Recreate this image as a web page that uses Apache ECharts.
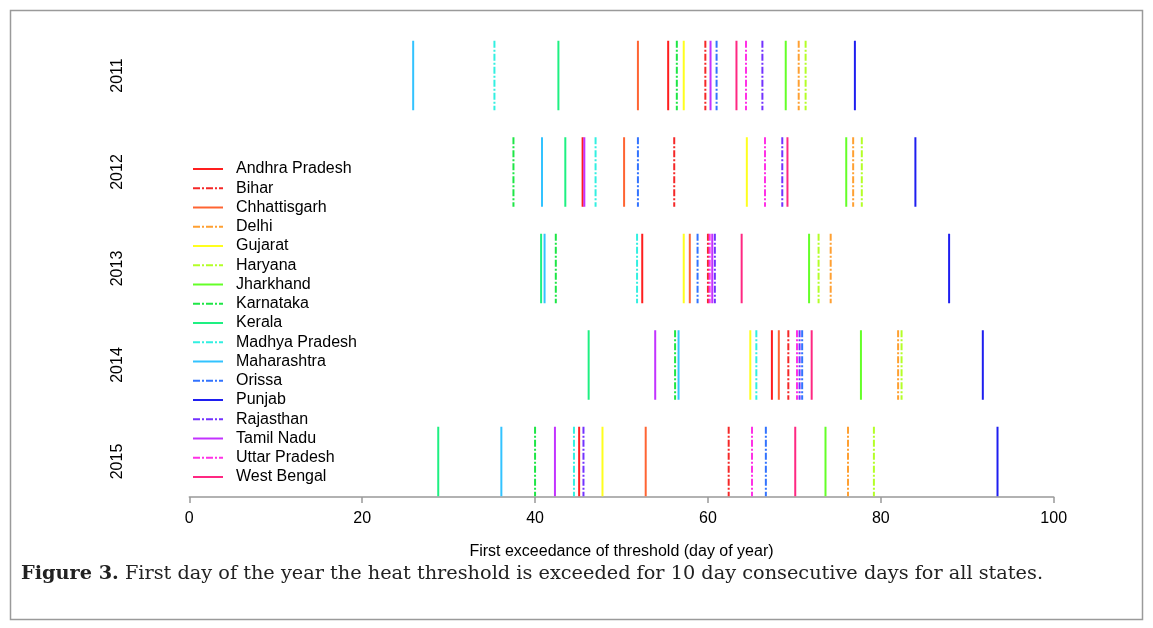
<!DOCTYPE html>
<html>
<head>
<meta charset="utf-8">
<script src="https://cdn.jsdelivr.net/npm/echarts@6/dist/echarts.min.js"></script>
<style>
html,body{margin:0;padding:0;background:#fff;}
#chart{width:1153px;height:628px;}
</style>
</head>
<body>
<div id="chart"></div>
<script>
const states = ['Andhra Pradesh','Bihar','Chhattisgarh','Delhi','Gujarat','Haryana','Jharkhand','Karnataka','Kerala','Madhya Pradesh','Maharashtra','Orissa','Punjab','Rajasthan','Tamil Nadu','Uttar Pradesh','West Bengal'];
const years = ['2011','2012','2013','2014','2015'];
const xTicks = [0, 20, 40, 60, 80, 100];
// first exceedance day per state (in states order) for each year
const d2011 = [55.4, 59.7, 51.9, 70.5, 57.2, 71.3, 69.0, 56.4, 42.7, 35.3, 25.9, 61.0, 77.0, 66.3, 60.3, 64.4, 63.3];
const d2012 = [45.5, 56.1, 50.3, 76.8, 64.5, 77.8, 76.0, 37.5, 43.5, 47.0, 40.8, 51.9, 84.0, 68.6, 45.7, 66.6, 69.2];
const d2013 = [52.4, 60.0, 57.9, 74.2, 57.2, 72.8, 71.7, 42.4, 40.7, 51.8, 41.1, 58.8, 87.9, 60.8, 60.5, 60.2, 63.9];
const d2014 = [67.4, 69.3, 68.2, 82.0, 64.9, 82.4, 77.7, 56.2, 46.2, 65.6, 56.6, 70.9, 91.8, 70.6, 53.9, 70.3, 72.0];
const d2015 = [45.1, 62.4, 52.8, 76.2, 47.8, 79.2, 73.6, 40.0, 28.8, 44.5, 36.1, 66.7, 93.5, 45.6, 42.3, 65.1, 70.1];
const byYear = [d2011, d2012, d2013, d2014, d2015];

// styles
const colors = ['#FF1E1E','#F52828','#FF6432','#FFA032','#FFFF1E','#B4FF28','#64FF28','#1EE646','#1EF082','#32F0E1','#32C3FF','#3273FF','#1E1EF0','#7332FF','#C332FF','#FF32E6','#FF2882'];
const dashed = [false,true,false,true,false,true,false,true,false,true,false,true,false,true,false,true,false];
const halfLen = 0.36;

const series = states.map((name, s) => {
  const data = [];
  byYear.forEach((arr, i) => {
    data.push([arr[s], i - halfLen]);
    data.push([arr[s], i + halfLen]);
    data.push(['-', '-']);
  });
  return {
    name: name,
    type: 'line',
    data: data,
    symbol: 'none',
    connectNulls: false,
    animation: false,
    silent: true,
    color: colors[s],
    lineStyle: { color: colors[s], width: 2, type: dashed[s] ? [7, 2, 2, 2] : 'solid' },
    emphasis: { disabled: true }
  };
});

const chart = echarts.init(document.getElementById('chart'), null, { renderer: 'canvas' });
chart.setOption({
  backgroundColor: '#fff',
  animation: false,
  title: {
    text: '{b|Figure 3.} First day of the year the heat threshold is exceeded for 10 day consecutive days for all states.',
    left: 16,
    top: 559,
    textStyle: {
      fontFamily: 'DejaVu Serif',
      fontSize: 19.3,
      fontWeight: 'normal',
      color: '#222',
      rich: { b: { fontFamily: 'DejaVu Serif', fontSize: 19.3, fontWeight: 'bold', color: '#222' } }
    }
  },
  graphic: [{
    type: 'rect',
    shape: { x: 10.5, y: 10.5, width: 1132, height: 609 },
    style: { fill: 'none', stroke: '#9a9a9a', lineWidth: 1.5 },
    silent: true
  }],
  legend: {
    orient: 'vertical',
    left: 192,
    top: 161,
    padding: 0,
    itemWidth: 30,
    itemHeight: 14,
    itemGap: 3.25,
    data: states,
    itemStyle: { opacity: 0 },
    textStyle: { fontFamily: 'Liberation Sans', fontSize: 16, color: '#000', padding: [0, 0, 0, 8] }
  },
  grid: { left: 189.3, right: 99.3, top: 27.25, bottom: 131, containLabel: false },
  xAxis: {
    type: 'value',
    min: 0,
    max: 100,
    interval: 20,
    splitLine: { show: false },
    axisLine: { show: true, onZero: false, lineStyle: { color: '#999', width: 1.5 } },
    axisTick: { show: true, length: 6, lineStyle: { color: '#999', width: 1.5 } },
    axisLabel: { color: '#000', fontFamily: 'Liberation Sans', fontSize: 16, margin: 14,
      formatter: v => xTicks.indexOf(v) >= 0 ? String(v) : '' },
    name: 'First exceedance of threshold (day of year)',
    nameLocation: 'middle',
    nameGap: 47,
    nameTextStyle: { color: '#000', fontFamily: 'Liberation Sans', fontSize: 16 }
  },
  yAxis: {
    type: 'value',
    inverse: true,
    min: -0.5,
    max: 4.368,
    interval: 0.5,
    splitLine: { show: false },
    axisLine: { show: false },
    axisTick: { show: false },
    axisLabel: {
      rotate: 90,
      margin: 64,
      color: '#000',
      fontFamily: 'Liberation Sans',
      fontSize: 16,
      formatter: v => (Number.isInteger(v) && v >= 0 && v < years.length) ? years[v] : ''
    }
  },
  series: series
});
</script>
</body>
</html>
